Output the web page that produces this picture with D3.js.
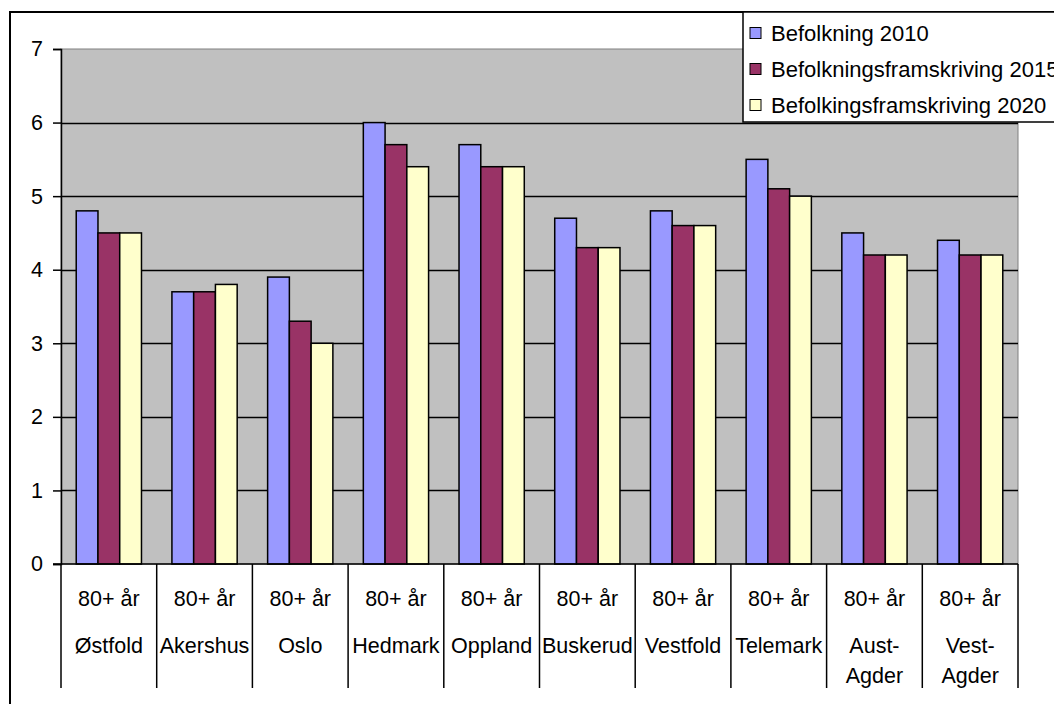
<!DOCTYPE html>
<html>
<head>
<meta charset="utf-8">
<script src="https://cdn.jsdelivr.net/npm/d3@7"></script>
<style>
  html, body { margin: 0; padding: 0; background: #fff; }
  svg { display: block; font-family: "Liberation Sans", Arial, sans-serif; }
</style>
</head>
<body>
<svg id="chart" width="1054" height="704"></svg>
<script>
// data
const ageLabel = '80+ år';
const regions  = ['Østfold', 'Akershus', 'Oslo', 'Hedmark', 'Oppland', 'Buskerud', 'Vestfold', 'Telemark', 'Aust-\nAgder', 'Vest-\nAgder'];
const seriesNames = ['Befolkning 2010', 'Befolkningsframskriving 2015', 'Befolkingsframskriving 2020'];
const val2010 = [4.8, 3.7, 3.9, 6.0, 5.7, 4.7, 4.8, 5.5, 4.5, 4.4];
const val2015 = [4.5, 3.7, 3.3, 5.7, 5.4, 4.3, 4.6, 5.1, 4.2, 4.2];
const val2020 = [4.5, 3.8, 3.0, 5.4, 5.4, 4.3, 4.6, 5.0, 4.2, 4.2];
const yTicks  = [0, 1, 2, 3, 4, 5, 6, 7];
const colors  = ['#9999ff', '#993366', '#ffffcc'];

const seriesVals = [val2010, val2015, val2020];

// layout
const plot = { left: 61, right: 1018, top: 49, bottom: 564 };
const fs = 21.5;
const svg = d3.select('#chart');

// outer chart frame (clipped at right/bottom like the source)
svg.append('rect')
  .attr('x', 10).attr('y', 12).attr('width', 1100).attr('height', 800)
  .attr('fill', '#fff').attr('stroke', '#000').attr('stroke-width', 2);

const x = d3.scaleBand().domain(d3.range(regions.length))
  .range([plot.left, plot.right]).paddingInner(0).paddingOuter(0);
const xs = d3.scaleBand().domain(d3.range(3))
  .range([0, x.bandwidth()]).paddingInner(0).paddingOuter(0.7);
const y = d3.scaleLinear().domain([0, 7]).range([plot.bottom, plot.top]);

// plot area
svg.append('rect')
  .attr('x', plot.left).attr('y', plot.top)
  .attr('width', plot.right - plot.left).attr('height', plot.bottom - plot.top)
  .attr('fill', '#c0c0c0').attr('stroke', '#808080').attr('stroke-width', 1);

// gridlines
svg.append('g').selectAll('line')
  .data(yTicks.filter(d => d > 0 && d < 7))
  .join('line')
  .attr('x1', plot.left).attr('x2', plot.right)
  .attr('y1', d => Math.round(y(d)) + 0.5).attr('y2', d => Math.round(y(d)) + 0.5)
  .attr('stroke', '#000').attr('stroke-width', 1.5);

// bars
const groups = svg.append('g').selectAll('g')
  .data(regions.map((r, i) => i))
  .join('g')
  .attr('transform', i => `translate(${x(i)},0)`);

groups.selectAll('rect')
  .data(i => seriesVals.map((s, k) => ({ k, v: s[i] })))
  .join('rect')
  .attr('x', d => xs(d.k))
  .attr('y', d => y(d.v))
  .attr('width', xs.bandwidth())
  .attr('height', d => y(0) - y(d.v))
  .attr('fill', d => colors[d.k])
  .attr('stroke', '#000').attr('stroke-width', 1.5);

// y axis
const yAxis = d3.axisLeft(y).tickValues(yTicks).tickSize(8).tickPadding(10).tickFormat(d3.format('d'));
const yg = svg.append('g').attr('transform', `translate(${plot.left},0)`).call(yAxis);
yg.select('.domain').attr('stroke', '#000').attr('stroke-width', 1.5);
yg.selectAll('.tick line').attr('stroke', '#000').attr('stroke-width', 1.5);
yg.selectAll('.tick text').attr('font-size', fs).attr('fill', '#000')
  .attr('font-family', '"Liberation Sans", Arial, sans-serif');

// x axis line
svg.append('line')
  .attr('x1', plot.left - 8).attr('x2', plot.right)
  .attr('y1', plot.bottom).attr('y2', plot.bottom)
  .attr('stroke', '#000').attr('stroke-width', 1.5);

// category dividers below axis
const bounds = d3.range(regions.length + 1).map(i => i < regions.length ? x(i) : plot.right);
svg.append('g').selectAll('line')
  .data(bounds)
  .join('line')
  .attr('x1', d => d).attr('x2', d => d)
  .attr('y1', plot.bottom).attr('y2', 688)
  .attr('stroke', '#000').attr('stroke-width', 1.5);

// category labels
const labels = svg.append('g').attr('font-size', fs).attr('text-anchor', 'middle');
regions.forEach((r, i) => {
  const cx = x(i) + x.bandwidth() / 2;
  labels.append('text').attr('x', cx).attr('y', 606).text(ageLabel);
  r.split('\n').forEach((line, j) => {
    labels.append('text').attr('x', cx).attr('y', 653 + j * 30).text(line);
  });
});

// legend
const lg = svg.append('g').attr('transform', 'translate(743,12)');
lg.append('rect').attr('x', 0).attr('y', 0).attr('width', 400).attr('height', 110)
  .attr('fill', '#fff').attr('stroke', '#000').attr('stroke-width', 1.5);
seriesNames.forEach((name, k) => {
  const cy = 21 + k * 36;
  lg.append('rect').attr('x', 7).attr('y', cy - 5.5).attr('width', 11).attr('height', 11)
    .attr('fill', colors[k]).attr('stroke', '#000').attr('stroke-width', 1);
  lg.append('text').attr('x', 28).attr('y', cy + 7.5).attr('font-size', 22).text(name);
});
</script>
</body>
</html>
